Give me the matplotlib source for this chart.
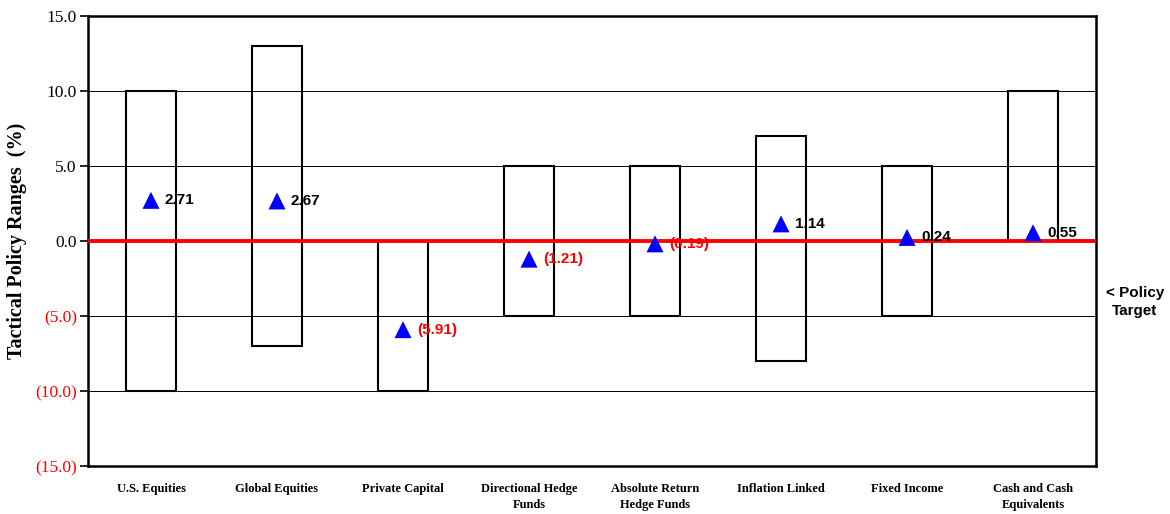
import matplotlib.pyplot as plt
from matplotlib.patches import Rectangle

categories = ["U.S. Equities", "Global Equities", "Private Capital",
              "Directional Hedge\nFunds", "Absolute Return\nHedge Funds",
              "Inflation Linked", "Fixed Income", "Cash and Cash\nEquivalents"]
range_low = [-10, -7, -10, -5, -5, -8, -5, 0]
range_high = [10, 13, 0, 5, 5, 7, 5, 10]
actual = [2.71, 2.67, -5.91, -1.21, -0.19, 1.14, 0.24, 0.55]
yticks = [15, 10, 5, 0, -5, -10, -15]


def fmt(v, d):
    s = f"{abs(v):.{d}f}"
    return f"({s})" if v < 0 else s


fig = plt.figure(figsize=(11.7, 5.14), dpi=100)
ax = fig.add_axes([0.0752, 0.0934, 0.8616, 0.8755])

ax.set_xlim(-0.5, len(categories) - 0.5)
ax.set_ylim(-15, 15)

for y in yticks[1:-1]:
    ax.axhline(y, color="black", lw=0.7, zorder=1)

for i, (lo, hi) in enumerate(zip(range_low, range_high)):
    ax.add_patch(Rectangle((i - 0.2, lo), 0.4, hi - lo, fill=False,
                           edgecolor="black", lw=1.5, zorder=2))

ax.axhline(0, color="#ff0000", lw=2.8, zorder=3)

xs = list(range(len(categories)))
ax.scatter(xs, actual, marker="^", s=150, color="#0000ff", zorder=4,
           edgecolors="none")
for x, v in zip(xs, actual):
    ax.annotate(fmt(v, 2), (x, v), xytext=(10, 0), textcoords="offset points",
                va="center", ha="left", fontsize=11, fontweight="bold",
                family="Liberation Sans",
                color="#ff0000" if v < 0 else "black", zorder=5)

ax.set_yticks(yticks)
ax.set_yticklabels([fmt(t, 1) for t in yticks], family="Liberation Serif",
                   fontsize=12.5)
for lbl, t in zip(ax.get_yticklabels(), yticks):
    if t < 0:
        lbl.set_color("#ff0000")
ax.tick_params(axis="y", length=6, width=1.2, direction="out", pad=2)

ax.set_xticks(xs)
ax.set_xticklabels(categories, family="Liberation Serif", fontsize=9,
                   fontweight="bold", linespacing=1.5)
ax.tick_params(axis="x", length=0, pad=12)

for sp in ax.spines.values():
    sp.set_linewidth(1.8)

ax.set_ylabel("Tactical Policy Ranges  (%)", family="Liberation Serif",
              fontsize=14.5, fontweight="bold", labelpad=6)

fig.text(0.970, 0.4125, "< Policy\nTarget", ha="center", va="center",
         fontsize=11, fontweight="bold", family="Liberation Sans",
         linespacing=1.4)

fig.savefig("out.png", dpi=100)
